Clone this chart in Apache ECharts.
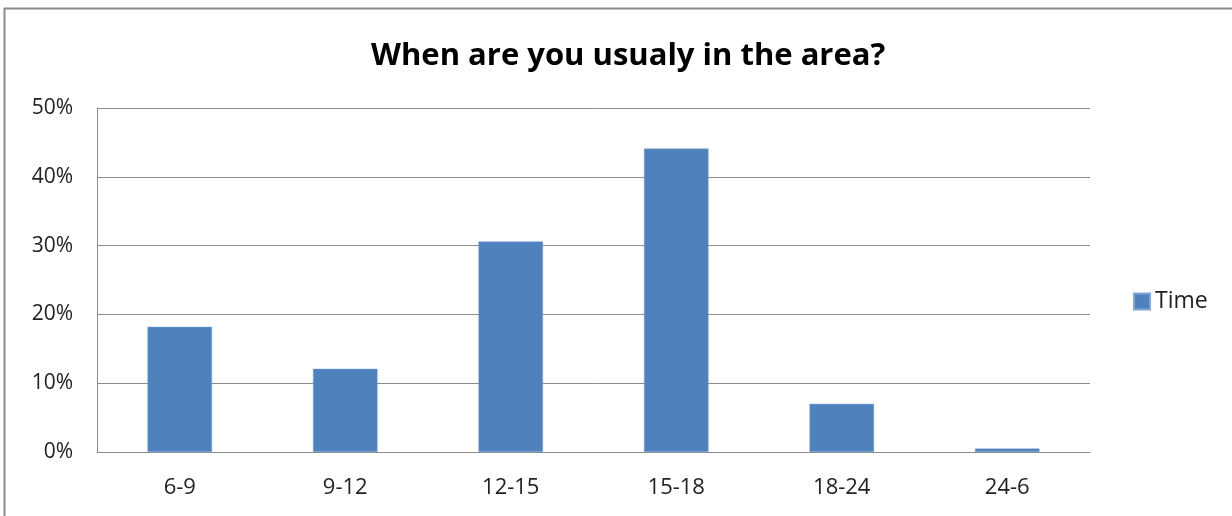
<!DOCTYPE html>
<html>
<head>
<meta charset="utf-8">
<script src="https://cdn.jsdelivr.net/npm/echarts@6/dist/echarts.min.js"></script>
<style>
  html, body { margin: 0; padding: 0; background: #fff; }
  #chart { width: 1232px; height: 516px; }
</style>
</head>
<body>
<div id="chart"></div>
<script>
// Time slots and share of respondents (%)
const categories = ['6-9', '9-12', '12-15', '15-18', '18-24', '24-6'];
const timeShare = [18.2, 12.1, 30.6, 44.1, 7.0, 0.5];
const seriesName = 'Time';
const titleText = 'When are you usualy in the area?';

const chart = echarts.init(document.getElementById('chart'));
const fontFamily = '"Open Sans", "Liberation Sans", sans-serif';

chart.setOption({
  animation: false,
  backgroundColor: '#fff',
  graphic: [{
    type: 'rect',
    shape: { x: 4.5, y: 8.5, width: 1240, height: 520 },
    style: { fill: 'none', stroke: '#8c8c8c', lineWidth: 2 },
    silent: true
  }],
  title: {
    text: titleText,
    left: 366,
    top: 36,
    textStyle: { fontFamily, fontSize: 31, fontWeight: 'bold', color: '#000' }
  },
  legend: {
    data: [seriesName],
    left: 1133,
    top: 290,
    padding: 0,
    orient: 'vertical',
    icon: 'rect',
    itemWidth: 16,
    itemHeight: 16,
    textStyle: { fontFamily, fontSize: 23, lineHeight: 23, color: '#222' }
  },
  grid: { left: 97, right: 142, top: 108, bottom: 64 },
  xAxis: {
    type: 'category',
    data: categories,
    axisLine: { lineStyle: { color: '#8c8c8c', width: 1 } },
    axisTick: { show: false },
    axisLabel: { fontFamily, fontSize: 22, color: '#222', margin: 25 }
  },
  yAxis: {
    type: 'value',
    min: 0,
    max: 50,
    interval: 10,
    axisLine: { show: true, lineStyle: { color: '#8c8c8c', width: 1 } },
    axisTick: { show: false },
    splitLine: { lineStyle: { color: '#8c8c8c', width: 1 } },
    axisLabel: { fontFamily, fontSize: 21, color: '#222', margin: 24, formatter: '{value}%' }
  },
  series: [{
    name: seriesName,
    type: 'bar',
    data: timeShare,
    barWidth: '39%',
    itemStyle: { color: '#4F81BD', borderColor: '#7fa6d6', borderWidth: 0.5 }
  }]
});
</script>
</body>
</html>
